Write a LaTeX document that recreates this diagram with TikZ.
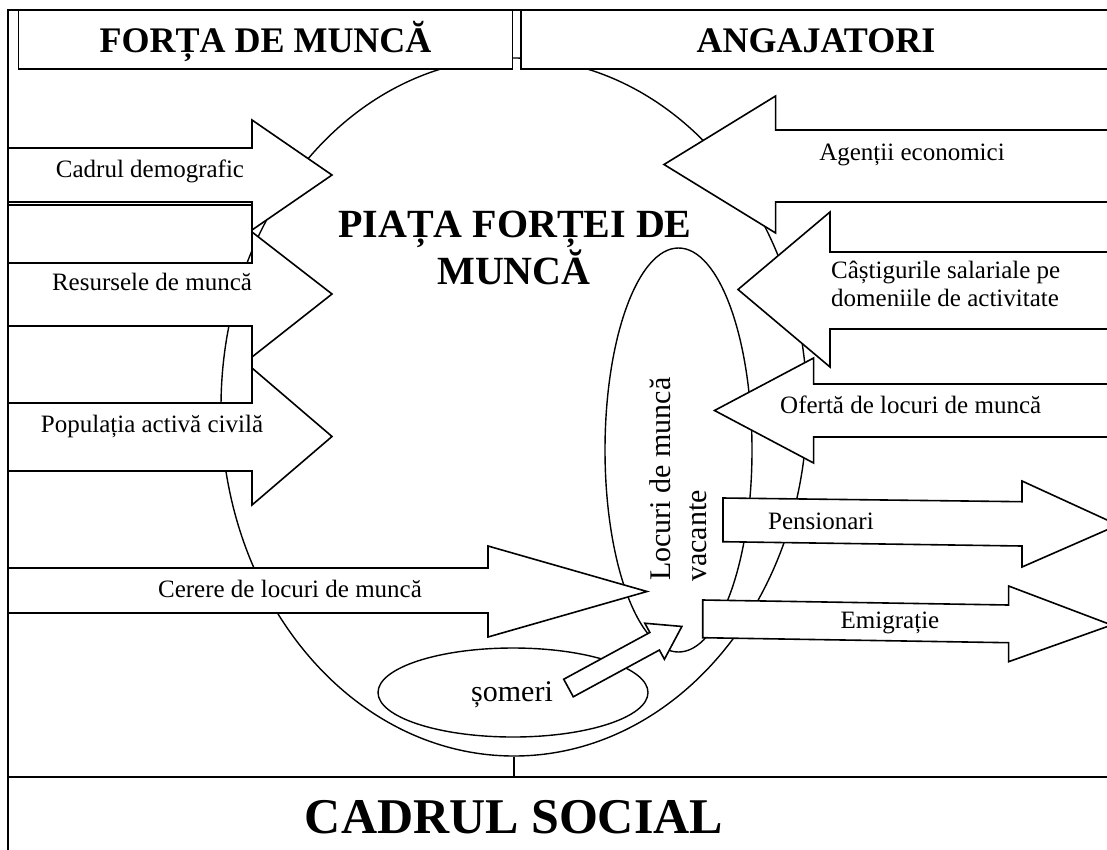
\documentclass[tikz,border=0pt]{standalone}
\usepackage{fontspec}
\setmainfont{Liberation Serif}
\usetikzlibrary{shapes.geometric}
\begin{document}
\begin{tikzpicture}[x=1pt,y=-1pt,
  ln/.style={line width=1.6pt, line join=miter, draw=black},
  blk/.style={ln, fill=white},
  oval/.style={ellipse, ln, inner sep=0pt, line width=1.4pt},
  lbl/.style={inner sep=0pt, font=\fontsize{25}{29}\selectfont},
  big/.style={inner sep=0pt, font=\fontsize{30}{36}\selectfont},
  hdr/.style={inner sep=0pt, font=\fontsize{36}{42}\selectfont\bfseries},
  ttl/.style={inner sep=0pt, font=\fontsize{40}{47}\selectfont\bfseries},
  soc/.style={inner sep=0pt, font=\fontsize{50}{58}\selectfont\bfseries}]
\useasboundingbox (0,0) rectangle (1107,849);
\clip (0,0) rectangle (1107,849);

% frame lines
\coordinate (ftl) at (8,10);
\coordinate (ftr) at (1115,10);
\coordinate (fbl) at (8,860);
\coordinate (sl) at (8,777);
\coordinate (sr) at (1115,777);
\draw[ln] (ftr) -- (ftl) -- (fbl);
\draw[ln] (sl) -- (sr);

% open rectangles between the left arrows
\draw[ln] (8,205) rectangle (252,263);
\draw[ln] (8,326) rectangle (252,403);

% ellipses
\node[oval, minimum width=586, minimum height=698] (piata) at (514,407) {};
\node[oval, minimum width=147, minimum height=404] (vac) at (678.5,450) {};
\node[oval, minimum width=270, minimum height=89] (somel) at (513,692.5) {};
\draw[ln] (piata.south) -- (piata.south |- sl);

% left arrows
\draw[blk] (8,148) -- (252,148) -- (252,120) -- (332,175) -- (252,230) -- (252,202) -- (8,202) -- cycle;
\draw[blk] (8,263) -- (252,263) -- (252,232) -- (332,294) -- (252,357) -- (252,326) -- (8,326) -- cycle;
\draw[blk] (8,403) -- (252,403) -- (252,368) -- (332,436.5) -- (252,505) -- (252,471) -- (8,471) -- cycle;
\draw[blk] (8,568) -- (488,568) -- (488,546) -- (647,591.5) -- (488,637) -- (488,613) -- (8,613) -- cycle;

% right arrows
\draw[blk] (1115,130) -- (775.6,130) -- (775.6,96) -- (664,164.5) -- (775.6,233) -- (775.6,202) -- (1115,202) -- cycle;
\draw[blk] (1115,252) -- (830,252) -- (830,212) -- (738,289.5) -- (830,367) -- (830,329) -- (1115,329) -- cycle;
\draw[blk] (1115,384) -- (813.6,384) -- (813.6,358) -- (714.5,410.5) -- (813.6,463) -- (813.6,437) -- (1115,437) -- cycle;

% outgoing arrows
\draw[blk] (723,498) -- (1022,501.7) -- (1022,481) -- (1118,525) -- (1022,567) -- (1022,546) -- (723,541.7) -- cycle;
\draw[blk] (702.7,600) -- (1008.6,605) -- (1008.6,586) -- (1111.6,625) -- (1008.6,661.7) -- (1008.6,642.7) -- (702.7,637.7) -- cycle;

% small arrow from someri
\begin{scope}[shift={(568.5,688)}, rotate=28.5]
\draw[blk] (0,-10) -- (98,-10) -- (98,-20.5) -- (129,0) -- (98,20.5) -- (98,10) -- (0,10) -- cycle;
\end{scope}

% header boxes
\draw[blk] (18.6,10) rectangle (512.5,69);
\draw[blk] (521,10) rectangle (1115,69);

% texts
\node[hdr, anchor=base] (h1) at (265.5,52) {FORȚA DE MUNCĂ};
\node[hdr, anchor=base] (h2) at (816,52) {ANGAJATORI};
\node[ttl, anchor=base] (t1) at (515,237) {PIAȚA FORȚEI DE};
\node[ttl, anchor=base] (t2) at (514,284) {MUNCĂ};
\node[soc, anchor=base] (social) at (514,833) {CADRUL SOCIAL};

\node[lbl, anchor=base] (cad) at (150,177) {Cadrul demografic};
\node[lbl, anchor=base] (res) at (152,290) {Resursele de muncă};
\node[lbl, anchor=base] (pop) at (152,432) {Populația activă civilă};
\node[lbl, anchor=base] (cer) at (290,597) {Cerere de locuri de muncă};

\node[lbl, anchor=base] (age) at (912,160) {Agenții economici};
\node[lbl, anchor=base west] (cas1) at (831,278) {Câștigurile salariale pe};
\node[lbl, anchor=base west] (cas2) at (831,306.7) {domeniile de activitate};
\node[lbl, anchor=base west] (ofe) at (780,413) {Ofertă de locuri de muncă};
\node[lbl, anchor=base west] (pen) at (768,529) {Pensionari};
\node[lbl, anchor=base west] (emi) at (840.5,628) {Emigrație};

\node[big, anchor=base] (som) at (512,701) {șomeri};
\node[big, anchor=base west, rotate=90] (loc1) at (670,581) {Locuri de muncă};
\node[big, anchor=base west, rotate=90] (loc2) at (706.7,582) {vacante};
\end{tikzpicture}
\end{document}
